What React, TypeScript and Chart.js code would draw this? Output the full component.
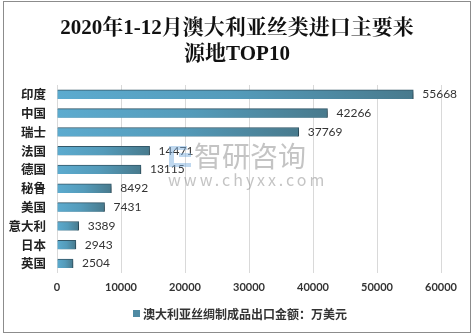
import React, { useEffect, useRef } from "react";
import { Chart, registerables } from "chart.js";

Chart.register(...registerables);

const titleLines = ["2020年1-12月澳大利亚丝类进口主要来", "源地TOP10"];
const categories = ["印度", "中国", "瑞士", "法国", "德国", "秘鲁", "美国", "意大利", "日本", "英国"];
const values = [55668, 42266, 37769, 14471, 13115, 8492, 7431, 3389, 2943, 2504];
const seriesName = "澳大利亚丝绸制成品出口金额：万美元";
const xTicks = [0, 10000, 20000, 30000, 40000, 50000, 60000];

const CJK = '"Noto Sans CJK SC", "Noto Sans", sans-serif';
const NUM = 'Lato, "Noto Sans", sans-serif';

const decorPlugin = {
  id: "decor",
  beforeDraw(chart: any) {
    const c = chart.ctx;
    c.save();
    c.fillStyle = "#ffffff";
    c.fillRect(0, 0, chart.width, chart.height);
    c.strokeStyle = "#8c8c8c";
    c.lineWidth = 1;
    c.strokeRect(3.5, 1.5, 467, 331);
    c.restore();
  },
  beforeDatasetDraw(chart: any) {
    const c = chart.ctx;
    c.save();
    c.shadowColor = "rgba(0,0,0,0.35)";
    c.shadowOffsetX = 1;
    c.shadowOffsetY = 2;
    c.shadowBlur = 3;
  },
  afterDatasetDraw(chart: any) {
    chart.ctx.restore();
  },
  afterDraw(chart: any) {
    const c = chart.ctx;
    c.save();
    // title
    c.fillStyle = "#111111";
    c.textAlign = "center";
    c.textBaseline = "middle";
    c.font = 'bold 21px "Liberation Serif", "Noto Serif CJK SC", "Noto Sans CJK SC", serif';
    c.fillText(titleLines[0], 237, 29);
    c.fillText(titleLines[1], 237, 55);

    // data labels
    const meta = chart.getDatasetMeta(0);
    c.font = "12px " + NUM;
    c.fillStyle = "#333333";
    c.textAlign = "left";
    meta.data.forEach((bar: any, i: number) => {
      c.fillText(String(values[i]), bar.x + 9, bar.y);
    });

    // legend
    c.fillStyle = "#4f8aa3";
    c.fillRect(133, 310, 7, 7);
    c.fillStyle = "#333333";
    c.font = "bold 12px " + CJK;
    c.textBaseline = "middle";
    c.fillText(seriesName, 143, 314);

    // watermark
    c.globalAlpha = 0.5;
    c.fillStyle = "#7fb2e0";
    c.fillRect(169, 146, 5, 21);
    c.fillRect(174, 146, 13, 4);
    c.fillRect(179, 153, 12, 4);
    c.fillRect(174, 163, 17, 4);
    c.fillStyle = "#8a8a8a";
    c.font = "28px " + CJK;
    c.textBaseline = "middle";
    c.fillText("智研咨询", 194, 156);
    c.font = "16px " + CJK;
    (c as any).letterSpacing = "3px";
    c.fillText("www.chyxx.com", 168, 180);
    c.restore();
  },
};

export default function App() {
  const ref = useRef<HTMLCanvasElement>(null);
  useEffect(() => {
    const prevMargin = document.body.style.margin;
    document.body.style.margin = "0";
    const chart = new Chart(ref.current!, {
      type: "bar",
      data: {
        labels: categories,
        datasets: [
          {
            label: seriesName,
            data: values,
            barThickness: 9,
            backgroundColor: (ctx: any) => {
              const ch = ctx.chart;
              if (!ch.chartArea || ctx.raw == null) return "#55a0c0";
              const x0 = ch.scales.x.getPixelForValue(0);
              const x1 = ch.scales.x.getPixelForValue(ctx.raw);
              const g = ch.ctx.createLinearGradient(x0, 0, Math.max(x1, x0 + 1), 0);
              g.addColorStop(0, "#5cabcf");
              g.addColorStop(0.5, "#549bba");
              g.addColorStop(1, "#487a8d");
              return g;
            },
            borderColor: "#34596a",
            borderWidth: { top: 1, bottom: 0, left: 0, right: 1 },
            borderSkipped: "left",
          },
        ],
      },
      options: {
        indexAxis: "y",
        animation: false,
        responsive: true,
        maintainAspectRatio: false,
        layout: { padding: { left: 0, right: 33, top: 85, bottom: 33 } },
        plugins: {
          legend: { display: false },
          title: { display: false },
          tooltip: { enabled: false },
        },
        scales: {
          x: {
            min: 0,
            max: 60000,
            afterFit: (s: any) => {
              s.height = 30;
            },
            afterBuildTicks: (s: any) => {
              s.ticks = xTicks.map((v) => ({ value: v }));
            },
            grid: { color: "#d9d9d9", drawTicks: false },
            border: { display: false },
            ticks: {
              padding: 8,
              color: "#333333",
              font: { family: NUM, size: 11, weight: "bold" },
              callback: (v: any) => String(v),
            },
          },
          y: {
            afterFit: (s: any) => {
              s.width = 57;
            },
            grid: { display: false, drawTicks: false },
            border: { display: false },
            ticks: {
              padding: 11,
              color: "#222222",
              font: { family: CJK, size: 12.5, weight: "bold" },
            },
          },
        },
      },
      plugins: [decorPlugin],
    } as any);
    return () => {
      chart.destroy();
      document.body.style.margin = prevMargin;
    };
  }, []);
  return (
    <div style={{ position: "fixed", left: 0, top: 0, width: 474, height: 336 }}>
      <canvas ref={ref} width={474} height={336} />
    </div>
  );
}
